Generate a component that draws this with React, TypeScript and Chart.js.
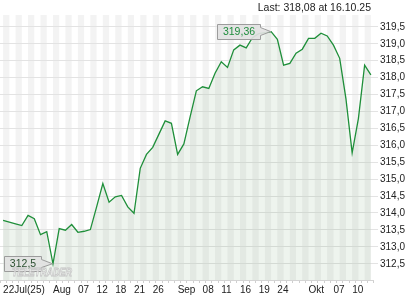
import React, { useEffect, useRef } from 'react';
import { Chart, registerables } from 'chart.js';

Chart.register(...registerables);

// X categories: one per trading day, only some carry a visible label
const xLabels: string[] = [
  '22Jul(25)', '', '', '', '', '', '', '', 'Aug', '', '', '', '07', '', '', '12', '', '', '18', '',
  '', '21', '', '', '26', '', '', '', 'Sep', '', '', '', '08', '', '', '11', '', '', '16', '',
  '', '19', '', '', '24', '', '', '', '', 'Okt', '', '', '', '07', '', '', '10', '', '', '',
];

// Closing prices
const prices: number[] = [
  313.78, 313.73, 313.68, 313.63, 313.93, 313.83, 313.36, 313.45, 312.50, 313.54,
  313.49, 313.66, 313.43, 313.46, 313.51, 314.18, 314.87, 314.32, 314.48, 314.52,
  314.18, 313.99, 315.32, 315.73, 315.94, 316.33, 316.72, 316.65, 315.73, 316.04,
  316.84, 317.61, 317.73, 317.68, 318.13, 318.47, 318.30, 318.82, 318.96, 318.88,
  319.18, 319.30, 319.33, 319.36, 319.13, 318.37, 318.42, 318.72, 318.84, 319.16,
  319.16, 319.31, 319.23, 318.96, 318.57, 317.38, 315.78, 316.79, 318.37, 318.08,
];

const yTicks: number[] = [
  312.5, 313.0, 313.5, 314.0, 314.5, 315.0, 315.5, 316.0,
  316.5, 317.0, 317.5, 318.0, 318.5, 319.0, 319.5,
];

const headerText = 'Last: 318,08 at 16.10.25';
const watermarkText = 'TELETRADER';

const FONT = '"Liberation Sans", Arial, sans-serif';

const fmtFixed = (v: number, d: number) => v.toFixed(d).replace('.', ',');
const fmtTrim = (v: number) => {
  let s = v.toFixed(2);
  s = s.replace(/0+$/, '').replace(/\.$/, '');
  return s.replace('.', ',');
};

function drawCallout(ctx: CanvasRenderingContext2D, px: number, py: number, text: string, color: string) {
  ctx.save();
  ctx.font = `10.5px ${FONT}`;
  const tw = ctx.measureText(text).width;
  const w = Math.round(tw + 11);
  const h = 15;
  const right = Math.round(px - 11.5) + 0.5;
  const left = right - w;
  const top = Math.round(py - 7.5) + 0.5;
  const bottom = top + h;
  ctx.beginPath();
  ctx.moveTo(left, top);
  ctx.lineTo(right, top);
  ctx.lineTo(right, top + 3);
  ctx.lineTo(px - 0.5, py);
  ctx.lineTo(right, bottom - 4);
  ctx.lineTo(right, bottom);
  ctx.lineTo(left, bottom);
  ctx.closePath();
  ctx.fillStyle = 'rgba(226,226,226,0.92)';
  ctx.fill();
  ctx.strokeStyle = '#9c9c9c';
  ctx.lineWidth = 1;
  ctx.stroke();
  ctx.fillStyle = color;
  ctx.textAlign = 'center';
  ctx.textBaseline = 'middle';
  ctx.fillText(text, (left + right) / 2, (top + bottom) / 2 + 0.5);
  ctx.restore();
}

const stripesPlugin = {
  id: 'stripes',
  beforeDraw(chart: any) {
    const { ctx, chartArea: a, scales } = chart;
    const x = scales.x;
    ctx.save();
    ctx.fillStyle = '#ffffff';
    ctx.fillRect(0, 0, chart.width, chart.height);
    ctx.fillStyle = '#f3f3f3';
    for (let i = 0; i + 1 < xLabels.length; i += 2) {
      const x0 = x.getPixelForValue(i);
      const x1 = x.getPixelForValue(i + 1);
      ctx.fillRect(x0, a.top, x1 - x0, a.bottom - a.top);
    }
    ctx.restore();
  },
};

const overlayPlugin = {
  id: 'overlay',
  afterDatasetsDraw(chart: any) {
    const { ctx, chartArea: a, scales } = chart;
    const x = scales.x;
    const y = scales.y;

    // header text
    ctx.save();
    ctx.font = `10.5px ${FONT}`;
    ctx.fillStyle = '#222222';
    ctx.textAlign = 'right';
    ctx.textBaseline = 'alphabetic';
    ctx.fillText(headerText, a.right - 3, 11);
    ctx.restore();

    // max / min callouts
    const maxV = Math.max(...prices);
    const minV = Math.min(...prices);
    const maxI = prices.indexOf(maxV);
    const minI = prices.indexOf(minV);
    drawCallout(ctx, x.getPixelForValue(maxI), y.getPixelForValue(maxV), fmtTrim(maxV), '#1e8c3c');
    drawCallout(ctx, x.getPixelForValue(minI), y.getPixelForValue(minV), fmtTrim(minV), '#2b4f30');

    // watermark
    ctx.save();
    ctx.font = `italic bold 11px ${FONT}`;
    const mw = ctx.measureText(watermarkText).width;
    const sx = 60 / mw;
    ctx.translate(a.left + 12, a.bottom - 4);
    ctx.scale(sx, 1);
    ctx.textAlign = 'left';
    ctx.textBaseline = 'alphabetic';
    ctx.fillStyle = 'rgba(255,255,255,0.7)';
    ctx.fillText(watermarkText, 0, 0);
    ctx.strokeStyle = '#c4c4c4';
    ctx.lineWidth = 0.8;
    ctx.strokeText(watermarkText, 0, 0);
    ctx.restore();
  },
};

export default function App() {
  const canvasRef = useRef<HTMLCanvasElement | null>(null);

  useEffect(() => {
    const canvas = canvasRef.current;
    if (!canvas) return;
    const chart = new Chart(canvas, {
      type: 'line',
      data: {
        labels: xLabels,
        datasets: [
          {
            data: prices,
            borderColor: '#1f8f3a',
            borderWidth: 1.3,
            pointRadius: 0,
            tension: 0,
            fill: 'start',
            backgroundColor: 'rgba(40,120,40,0.08)',
          },
        ],
      },
      options: {
        responsive: false,
        devicePixelRatio: 1,
        animation: false,
        events: [],
        layout: { padding: { top: 15, right: 13, bottom: 3, left: 0 } },
        plugins: {
          legend: { display: false },
          tooltip: { enabled: false },
          title: { display: false },
        },
        scales: {
          x: {
            type: 'category',
            offset: true,
            grid: {
              offset: true,
              drawOnChartArea: false,
              drawTicks: true,
              tickLength: 3,
              color: '#cfcfcf',
            },
            border: { display: true, color: '#d4d4d4' },
            ticks: {
              autoSkip: false,
              maxRotation: 0,
              minRotation: 0,
              align: 'start',
              padding: 1,
              color: '#222222',
              font: { size: 10, family: FONT },
            },
          },
          y: {
            type: 'linear',
            position: 'right',
            min: 312.02,
            max: 319.85,
            afterBuildTicks: (scale: any) => {
              scale.ticks = yTicks.map((v) => ({ value: v }));
            },
            grid: { color: '#e3e3e3', tickLength: 4, drawTicks: true },
            border: { display: false },
            ticks: {
              padding: 2,
              color: '#222222',
              font: { size: 10, family: FONT },
              callback: (v: any) => fmtFixed(Number(v), 1),
            },
          },
        },
      },
      plugins: [stripesPlugin, overlayPlugin],
    });
    return () => chart.destroy();
  }, []);

  return (
    <div style={{ position: 'fixed', left: 0, top: 0, width: 420, height: 300, background: '#fff' }}>
      <canvas ref={canvasRef} width={420} height={300} style={{ display: 'block', width: 420, height: 300 }} />
    </div>
  );
}
